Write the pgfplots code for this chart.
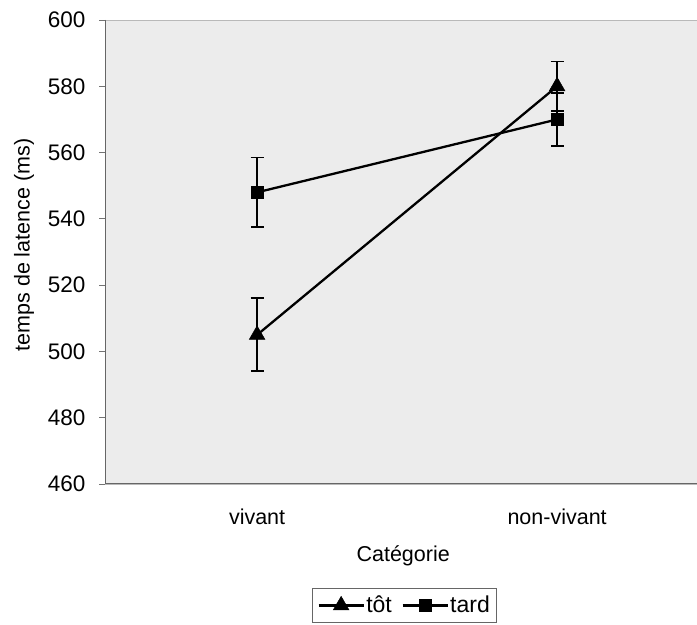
\documentclass[border=0pt]{standalone}
\usepackage{pgfplots}
\pgfplotsset{compat=1.18}
\usepackage{fontspec}
\setmainfont{Liberation Sans}
\begin{document}
\begin{tikzpicture}
\useasboundingbox (0,0) rectangle (697bp,625bp);
\begin{axis}[
  at={(105bp,141bp)}, anchor=south west, scale only axis,
  width=600bp, height=464bp,
  xmin=-0.507, xmax=1.493, ymin=460, ymax=600,
  ytick={460,480,...,600},
  xtick={0,1}, xticklabels={vivant,non-vivant},
  tick pos=left, tick align=outside, major tick length=6bp,
  x tick style={draw=none},
  y tick style={draw=black!55, line width=0.8bp},
  /pgf/number format/assume math mode=true,
  font=\fontsize{21.5bp}{25bp}\selectfont,
  yticklabel style={xshift=-10bp, font=\fontsize{22.5bp}{25bp}\selectfont},
  xticklabel style={yshift=-15bp},
  axis background/.style={fill=gray!15},
  axis line style={draw=gray!55, line width=0.8bp},
  xlabel={Catégorie}, ylabel={temps de latence (ms)},
  xlabel style={at={(axis description cs:0.497,-0.155)}, anchor=center},
  ylabel style={at={(axis description cs:-0.135,0.515)}, anchor=center},
  legend columns=2,
  legend style={at={(axis description cs:0.499,-0.224)}, anchor=north,
    draw=black!60, line width=0.6bp, font=\fontsize{23bp}{26bp}\selectfont,
    inner xsep=5bp, inner ysep=5bp,
    nodes={inner xsep=1.5bp, inner ysep=3bp},
    /tikz/every even column/.append style={column sep=8bp}},
  legend image code/.code={\draw[mark repeat=2,mark phase=2,#1] plot coordinates {(0bp,0bp) (22.5bp,0bp) (45bp,0bp)};},
  execute at end axis={\draw[black!60, line width=1.2bp] (rel axis cs:0,1) -- (rel axis cs:0,0) -- (rel axis cs:1,0);},
]
\addplot[black, line width=2.3bp, mark=triangle*, mark size=9bp, mark options={solid, line width=0.5bp},
  error bars/.cd, y dir=both, y explicit,
  error bar style={line width=1.8bp, black},
  error mark options={rotate=90, mark size=6.5bp, line width=1.8bp, black}]
  coordinates {(0,505) +- (0,11) (1,580) +- (0,7.5)};
\addlegendentry{tôt}
\addplot[black, line width=2.3bp, mark=square*, mark size=6bp, mark options={solid, line width=0.8bp},
  error bars/.cd, y dir=both, y explicit,
  error bar style={line width=1.8bp, black},
  error mark options={rotate=90, mark size=6.5bp, line width=1.8bp, black}]
  coordinates {(0,548) +- (0,10.5) (1,570) +- (0,8)};
\addlegendentry{tard}
\end{axis}
\end{tikzpicture}
\end{document}
